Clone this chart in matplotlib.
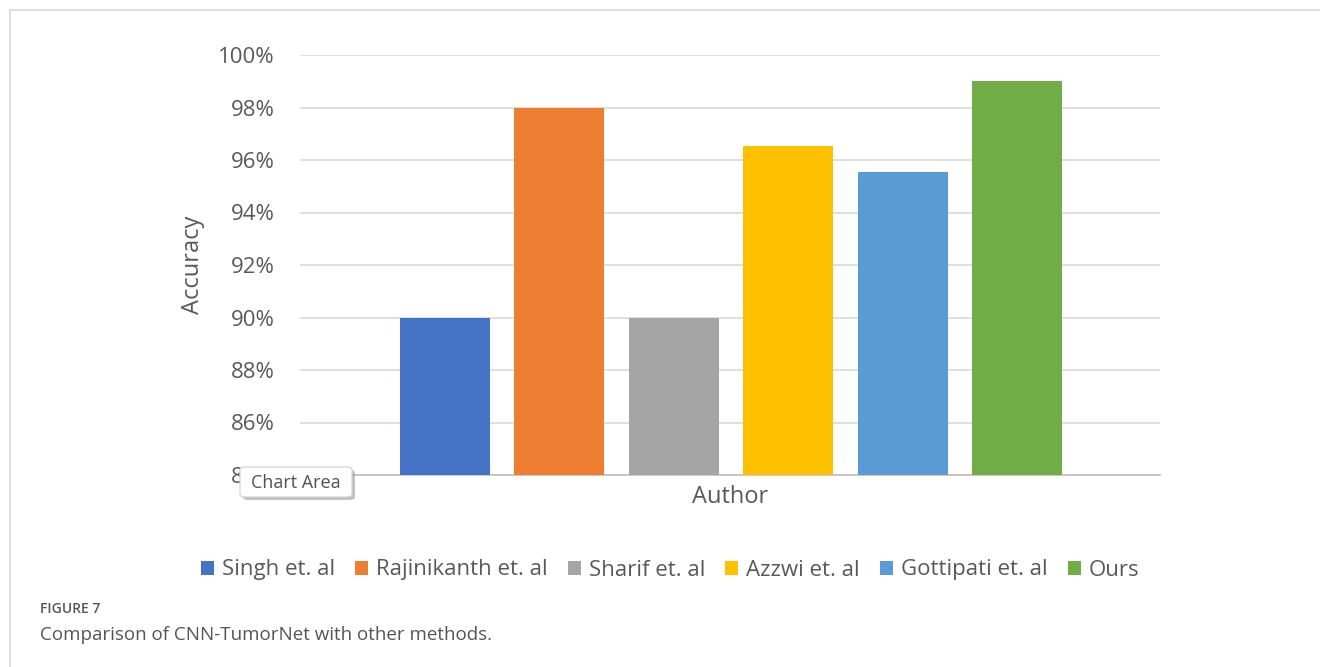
import matplotlib.pyplot as plt
from matplotlib.patches import FancyBboxPatch
from matplotlib.lines import Line2D
from matplotlib.ticker import PercentFormatter

authors = ['Singh et. al', 'Rajinikanth et. al', 'Sharif et. al', 'Azzwi et. al', 'Gottipati et. al', 'Ours']
accuracy = [90.0, 98.0, 90.0, 96.55, 95.55, 99.0]
colors = ['#4472c4', '#ed7d31', '#a5a5a5', '#ffc000', '#5b9bd5', '#70ad47']
yticks = [84, 86, 88, 90, 92, 94, 96, 98, 100]

plt.rcParams['font.family'] = ['Open Sans', 'DejaVu Sans']
txt = '#595959'

W, H = 1320, 667
fig = plt.figure(figsize=(W / 100, H / 100), dpi=100)

# light frame around the figure panel (left and top only visible)
fig.add_artist(Line2D([10 / W, 10 / W], [0, 1 - 10 / H], color='#d9d9d9', lw=1.2))
fig.add_artist(Line2D([10 / W, 1], [1 - 10 / H, 1 - 10 / H], color='#d9d9d9', lw=1.2))

ax = fig.add_axes([300 / W, 1 - 475 / H, 860 / W, 420 / H])
x = list(range(len(authors)))
for i in x:
    ax.bar(i, accuracy[i], width=0.786, color=colors[i], label=authors[i], zorder=3)

ax.set_ylim(84, 100)
ax.set_xlim(-1.267, 6.25)
ax.set_yticks(yticks)
ax.yaxis.set_major_formatter(PercentFormatter(decimals=0))
ax.set_xticks([])
ax.grid(axis='y', color='#d9d9d9', lw=1.2, zorder=0)
for s in ['top', 'right', 'left']:
    ax.spines[s].set_visible(False)
ax.spines['bottom'].set_color('#bfbfbf')
ax.spines['bottom'].set_linewidth(1.2)
ax.tick_params(axis='y', length=0, pad=18, labelsize=16, labelcolor=txt)

ax.set_ylabel('Accuracy', fontsize=17, color=txt, va='center')
ax.yaxis.set_label_coords(-(300 - 193) / 860, 0.5)
ax.set_xlabel('Author', fontsize=17, color=txt, va='center')
ax.xaxis.set_label_coords(0.5, -(497 - 475) / 420)

ax.legend(loc='center', bbox_to_anchor=(670 / W, 1 - 570 / H), bbox_transform=fig.transFigure,
          ncol=6, frameon=False, fontsize=16, handlelength=0.6, handleheight=0.6,
          handletextpad=0.35, columnspacing=0.9, labelcolor=txt)

# "Chart Area" tooltip from the screenshot
fig.patches.append(FancyBboxPatch((243 / W, 1 - 500 / H), 112 / W, 30 / H,
                                  boxstyle='round,pad=0,rounding_size=0.004',
                                  transform=fig.transFigure, fc='#9a9a9a', ec='none', alpha=0.6))
fig.patches.append(FancyBboxPatch((240 / W, 1 - 497 / H), 112 / W, 30 / H,
                                  boxstyle='round,pad=0,rounding_size=0.004',
                                  transform=fig.transFigure, fc='white', ec='#d0d0d0', lw=0.8))
fig.text(296 / W, 1 - 483 / H, 'Chart Area', ha='center', va='center', fontsize=13, color='#505060')

fig.text(40 / W, 1 - 609 / H, 'FIGURE 7', fontsize=10, fontweight='semibold', color='#555555', va='center')
fig.text(40 / W, 1 - 635 / H, 'Comparison of CNN-TumorNet with other methods.',
         fontsize=13.5, color='#555555', va='center')

fig.savefig('out.png', dpi=100)
